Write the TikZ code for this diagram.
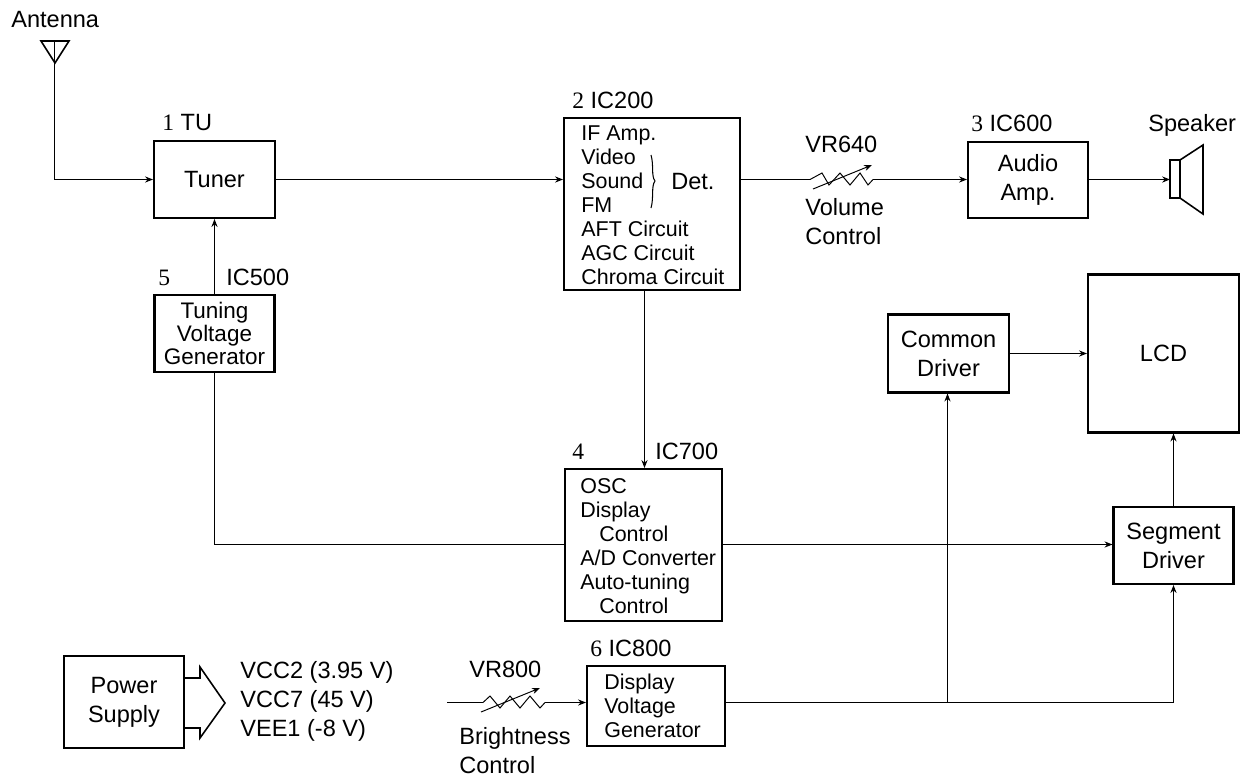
\documentclass[tikz,border=0pt]{standalone}
\usepackage{fontspec}
\setmainfont{Liberation Sans}
\newfontfamily\digitfont{Liberation Serif}
\usetikzlibrary{arrows.meta}
\newcommand{\num}[1]{{\digitfont #1}}
\tikzset{
  box/.style={draw,line width=1.2pt,inner sep=0pt,align=center},
  wire/.style={line width=0.55pt},
  feed/.style={wire,-{Stealth[length=4.5pt,width=3.5pt]}},
  tag/.style={anchor=west,inner sep=0pt,text height=9.6pt,text depth=0pt},
  lines/.style={anchor=west,inner sep=0pt,align=left,font=\fontsize{12.2}{13.7}\selectfont},
  twolines/.style={font=\fontsize{13.4}{16.5}\selectfont},
  threelines/.style={font=\fontsize{12.8}{13.2}\selectfont}
}

\begin{document}
\begin{tikzpicture}[x=0.02cm,y=-0.02cm,font=\fontsize{13.4}{16}\selectfont]
\useasboundingbox (0,0) rectangle (1255,778);
\node[box,twolines,minimum width=2.42cm,minimum height=1.54cm] (tuner) at (214.5,179.5) {Tuner}; % Box.tuner
\node[box,minimum width=3.52cm,minimum height=3.44cm] (ifbox) at (652,204) {}; % Box.ic200
\node[box,twolines,minimum width=2.40cm,minimum height=1.52cm] (audio) at (1028,180) {Audio\\Amp.}; % Box.ic600
\node[box,threelines,minimum width=2.40cm,minimum height=1.54cm] (tuning) at (214.5,333.5) {Tuning\\Voltage\\Generator}; % Box.ic500
\node[box,minimum width=3.14cm,minimum height=3.04cm] (oscbox) at (643.5,545) {}; % Box.ic700
\node[box,twolines,minimum width=2.42cm,minimum height=1.56cm] (common) at (948.5,353.5) {Common\\Driver}; % Box.common
\node[box,minimum width=3.02cm,minimum height=3.16cm] (lcd) at (1163.5,353.5) {LCD}; % Box.lcd
\node[box,twolines,minimum width=2.40cm,minimum height=1.54cm] (segment) at (1173.5,545.5) {Segment\\Driver}; % Box.segment
\node[box,minimum width=2.76cm,minimum height=1.60cm] (dispbox) at (656,706) {}; % Box.ic800
\node[box,twolines,minimum width=2.40cm,minimum height=1.84cm] (power) at (124,702) {Power\\Supply}; % Box.power
\node[lines] (iftext) at (581,205.5) {IF Amp.\\Video\\Sound\\FM\\AFT Circuit\\AGC Circuit\\Chroma Circuit}; % Text.ic200
\node[tag] (det) at (671,181) {Det.}; % Text.det
\node[lines] (osctext) at (580,546) {OSC\\Display\\\hspace*{0.38cm}Control\\A/D Converter\\Auto-tuning\\\hspace*{0.38cm}Control}; % Text.ic700
\node[lines] (disptext) at (604,706) {Display\\Voltage\\Generator}; % Text.ic800
\node[lines,font=\fontsize{13.4}{16.5}\selectfont] (railtext) at (240,701) {VCC2 (3.95 V)\\VCC7 (45 V)\\VEE1 (-8 V)}; % Text.power
\node[tag] (antlabel) at (11,19) {Antenna}; % Label.antenna
\node[tag] (tulabel) at (162,122) {\num{1} TU}; % Label.tuner
\node[tag] (ic200label) at (572,100) {\num{2} IC200}; % Label.ic200
\node[tag] (ic600label) at (971,123) {\num{3} IC600}; % Label.ic600
\node[tag] (num5label) at (158,277) {\num{5}}; % Label.ic500
\node[tag] (ic500label) at (226,277) {IC500}; % Label.ic500
\node[tag] (num4label) at (572,451) {\num{4}}; % Label.ic700
\node[tag] (ic700label) at (655,451) {IC700}; % Label.ic700
\node[tag] (ic800label) at (590,648) {\num{6} IC800}; % Label.ic800
\node[tag] (spklabel) at (1148,123) {Speaker}; % Label.speaker
\node[tag] (vr640label) at (805,144) {VR640}; % Label.vr640
\node[lines,font=\fontsize{13.4}{16.5}\selectfont] (vollabel) at (805,222) {Volume\\Control}; % Label.vr640
\node[tag] (vr800label) at (469,669) {VR800}; % Label.vr800
\node[lines,font=\fontsize{13.4}{16.5}\selectfont] (brilabel) at (459,751) {Brightness\\Control}; % Label.vr800
\coordinate (antfoot) at (54.5,41); % Antenna.foot
\coordinate (antbend) at (54.5,179.5); % Antenna.bend
\coordinate (vol1) at (810,179.5); % Resistor.vr640
\coordinate (vol2) at (873,179.5); % Resistor.vr640
\coordinate (bri0) at (447,702.5); % Resistor.vr800
\coordinate (bri1) at (483,702.5); % Resistor.vr800
\coordinate (bri2) at (545,702.5); % Resistor.vr800
\coordinate (spkin) at (1170,179.5); % Speaker.in
\coordinate (ifdrop) at (644.5,290); % Wire.ic200
\coordinate (branch) at (947.5,702.5); % Wire.branch
\coordinate (cornerseg) at (1173.5,702.5); % Wire.corner
\coordinate (cornertun) at (214.5,544.5); % Wire.corner
\draw[line width=0.9pt] (41,41) -- (69,41) -- (55,63) -- cycle ; % Antenna.head
\draw[wire] (antfoot) -- (antbend) ; % Antenna.mast
\draw[feed] (antbend) -- (tuner.west |- antbend) ; % Wire.antenna
\draw[feed] (tuner.east |- antbend) -- (ifbox.west |- antbend) ; % Wire.tuner
\draw[wire] (ifbox.east |- vol1) -- (vol1) ; % Wire.ic200
\draw[wire] (vol1) -- (822,173) -- (829,185) -- (840,173) -- (850,185) -- (860,173) -- (868,185) -- (vol2) ; % Resistor.vr640
\draw[feed] (813,189) -- (872,165) ; % Resistor.vr640
\draw[feed] (vol2) -- (audio.west |- vol2) ; % Wire.vr640
\draw[feed] (audio.east |- spkin) -- (spkin) ; % Wire.audio
\draw[line width=0.9pt] (1170,160) rectangle (1180,198) ; % Speaker.coil
\draw[line width=0.9pt] (1180,160) -- (1203,145) -- (1203,214) -- (1180,198) ; % Speaker.cone
\draw[feed] (tuning.north) -- (tuner.south) ; % Wire.tuning
\draw[wire] (tuning.south) -- (cornertun) -- (oscbox.west |- cornertun) ; % Wire.tuning
\draw[feed] (ifdrop) -- (ifdrop |- oscbox.north) ; % Wire.ic200
\draw[feed] (oscbox.east |- cornertun) -- (segment.west |- cornertun) ; % Wire.ic700
\draw[feed] (segment.north) -- (lcd.south -| segment.north) ; % Wire.segment
\draw[feed] (common.east) -- (lcd.west) ; % Wire.common
\draw[wire] (bri0) -- (bri1) -- (490,696) -- (500,708) -- (510,696) -- (520,708) -- (530,696) -- (540,708) -- (bri2) ; % Resistor.vr800
\draw[feed] (481,712) -- (540,688) ; % Resistor.vr800
\draw[feed] (bri2) -- (dispbox.west |- bri2) ; % Wire.vr800
\draw[wire] (dispbox.east |- branch) -- (cornerseg) ; % Wire.ic800
\draw[feed] (cornerseg) -- (segment.south) ; % Wire.ic800
\draw[feed] (branch) -- (common.south -| branch) ; % Wire.branch
\draw[line width=0.9pt] (184,678) -- (200,678) -- (200,667) -- (225,703) -- (200,738) -- (200,728) -- (184,728) ; % Arrow.power
\draw[line width=0.6pt] (651,155) .. controls (654,165) and (651,176) .. (655,181) .. controls (651,186) and (654,198) .. (651,208) ; % Brace.det
\end{tikzpicture}
\end{document}
